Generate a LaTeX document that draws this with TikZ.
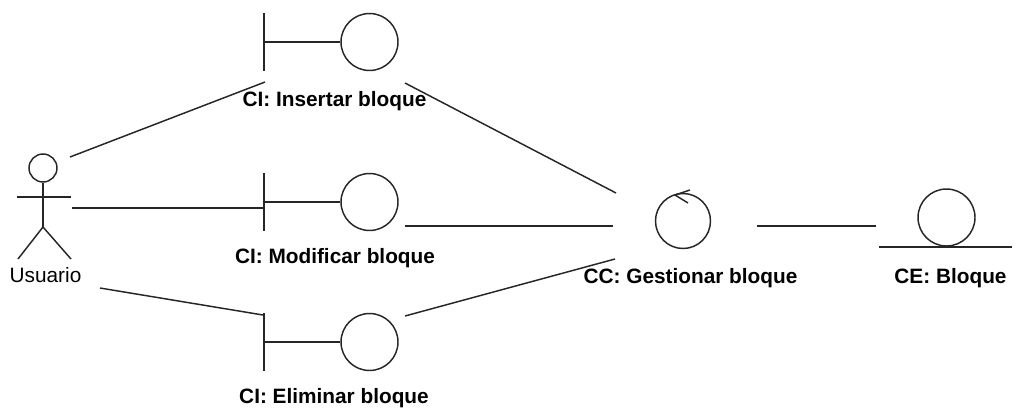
\documentclass[tikz,border=0pt]{standalone}
\usepackage{fontspec}
\setmainfont{Liberation Sans}
\usetikzlibrary{calc}

\tikzset{
  ln/.style={draw=black!85, line width=1.1pt},
  icon/.style={ln, circle, inner sep=0pt, minimum size=42.75pt},
  ctlicon/.style={ln, circle, inner sep=0pt, minimum size=41.25pt},
  headicon/.style={ln, circle, inner sep=0pt, minimum size=21pt},
  lbl/.style={anchor=base, inner sep=0pt, font=\fontsize{15.6pt}{18pt}\selectfont\bfseries},
  actlbl/.style={anchor=base, inner sep=0pt, font=\fontsize{15.6pt}{18pt}\selectfont},
  conn/.style={ln}
}

\begin{document}
\begin{tikzpicture}[x=0.75pt, y=-0.75pt]
\useasboundingbox (0,0) rectangle (1014,412);

% Actor: Usuario
\node[headicon] (usrhead) at (43,168) {};
\coordinate (usrhip) at (43,227);
\draw[ln] (usrhead.south) -- (usrhip);
\draw[ln] (17,197) -- (71,197);
\draw[ln] (usrhip) -- (18,259);
\draw[ln] (usrhip) -- (71,259);
\node[actlbl] (usrlbl) at (45.5,282) {Usuario};

% Boundary objects
\foreach \nm/\cy in {ins/42, mod/202, eli/342}{
  \node[icon] (\nm) at (369.5,\cy) {};
  \coordinate (\nm bar) at (264,\cy);
  \draw[ln] (\nm.west) -- (\nm bar);
  \draw[ln] ($(\nm bar)+(0,-29)$) -- ($(\nm bar)+(0,29)$);
}
\node[lbl] (inslbl) at (334.5,106) {CI: Insertar bloque};
\node[lbl] (modlbl) at (335,263) {CI: Modificar bloque};
\node[lbl] (elilbl) at (334,403) {CI: Eliminar bloque};

% Control object
\node[ctlicon] (ctl) at (683,221) {};
\draw[ln] (690,190) -- (675,195) -- (688,203);
\node[lbl] (ctllbl) at (690.5,283) {CC: Gestionar bloque};

% Entity object
\node[icon] (ent) at (946.5,217.5) {};
\coordinate (entl) at (879,247);
\coordinate (entr) at (1012,247);
\draw[ln] (entl) -- (entr);
\node[lbl] (entlbl) at (950.5,283) {CE: Bloque};

% Connector end points
\coordinate (usr-a) at (70,157);
\coordinate (usr-b) at (72,208);
\coordinate (usr-c) at (100,288);
\coordinate (ins-in) at (265,82);
\coordinate (mod-in) at (263,208);
\coordinate (eli-in) at (263,315);
\coordinate (ins-out) at (405,83);
\coordinate (mod-out) at (405,226);
\coordinate (eli-out) at (405,316);
\coordinate (ctl-a) at (616,193);
\coordinate (ctl-b) at (613,226);
\coordinate (ctl-c) at (615,259);
\coordinate (ctl-out) at (757,226);
\coordinate (ent-in) at (876,226);

% Associations
\draw[conn] (usr-a) -- (ins-in);
\draw[conn] (usr-b) -- (mod-in);
\draw[conn] (usr-c) -- (eli-in);
\draw[conn] (ins-out) -- (ctl-a);
\draw[conn] (mod-out) -- (ctl-b);
\draw[conn] (eli-out) -- (ctl-c);
\draw[conn] (ctl-out) -- (ent-in);
\end{tikzpicture}
\end{document}
